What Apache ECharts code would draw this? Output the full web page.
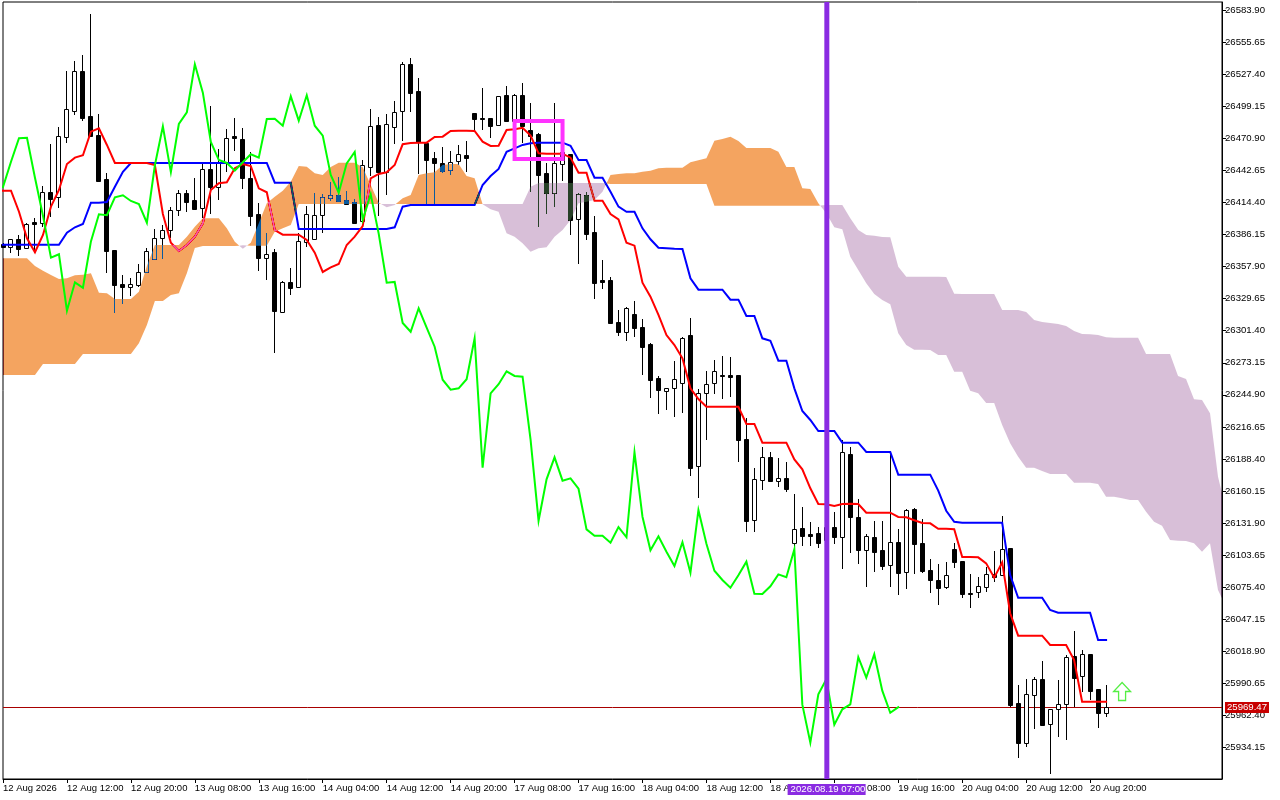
<!DOCTYPE html>
<html><head><meta charset="utf-8">
<style>html,body{margin:0;padding:0;background:#fff}#c{width:1280px;height:800px}</style>
<script src="https://cdn.jsdelivr.net/npm/echarts@6/dist/echarts.min.js"></script>
</head><body><div id="c"></div>
<script>
const timeLabels=["12 Aug 2026","12 Aug 12:00","12 Aug 20:00","13 Aug 08:00","13 Aug 16:00","14 Aug 04:00","14 Aug 12:00","14 Aug 20:00","17 Aug 08:00","17 Aug 16:00","18 Aug 04:00","18 Aug 12:00","18 Aug 20:00","19 Aug 08:00","19 Aug 16:00","20 Aug 04:00","20 Aug 12:00","20 Aug 20:00"];
const priceTicks=[26583.90,26555.65,26527.40,26499.15,26470.90,26442.65,26414.40,26386.15,26357.90,26329.65,26301.40,26273.15,26244.90,26216.65,26188.40,26160.15,26131.90,26103.65,26075.40,26047.15,26018.90,25990.65,25962.40,25934.15];
const opens=[26377.9,26375,26382.5,26374.1,26397.3,26396.6,26423.5,26419,26471.9,26494.9,
26530.1,26490.5,26474,26434.9,26372.3,26342.6,26340.2,26342,26352.9,26364.4,
26382.9,26389.9,26407.6,26422.6,26416.4,26409.3,26443.7,26428.4,26449,26473.1,
26470.4,26436.1,26404.3,26365.8,26370.8,26318.2,26344.4,26340.2,26379.9,26382.5,
26403.2,26418.2,26420.8,26416.7,26414.6,26398.4,26445.5,26482.8,26441.1,26481.3,
26495.4,26536.6,26512.5,26466.7,26453.7,26449,26442.8,26451.3,26456.1,26493.1,
26489,26489,26483.1,26509,26486.3,26509,26478.1,26474.9,26440.2,26423.1,
26448.1,26457.2,26399.6,26420.8,26388.2,26345.9,26346.1,26308.8,26300.5,26315.9,
26304.4,26289.7,26259.5,26248.5,26250.6,26255.6,26297.6,26181.9,26246.8,26255,
26262.1,26262.1,26262.1,26205.7,26134.8,26170.1,26189.8,26168.6,26171.3,26114.5,
26127.5,26122.2,26123.1,26116.9,26128.1,26119.3,26192.7,26136.9,26107.8,26119.3,
26107.8,26095.1,26114.9,26088.9,26144,26114,26090.2,26081.3,26075.7,26108.7,
26098.4,26069.9,26070.8,26075.2,26086.9,26086.3,26109.6,25973.2,25938.2,25980.5,
25994.1,25954.9,25967.6,25972.6,26014.6,25997.2,26016.1,25985.3,25964.1];
const closes=[26375.2,26382.5,26373.7,26395.8,26395.8,26423.5,26417.8,26472.8,26496.6,26530.1,
26488.7,26473.4,26433.7,26372,26342,26340.2,26342.3,26352.9,26371.4,26382.9,
26389.9,26407.6,26422.6,26415.2,26409,26443.7,26428.1,26450.4,26471.1,26471.6,
26436.3,26402.8,26365.8,26368.8,26319.1,26344.1,26339.3,26380.2,26404.1,26403.2,
26419,26420.8,26415.8,26413.1,26396.6,26447.3,26481.6,26441.3,26483.7,26494,
26536.3,26511.3,26467.8,26451.9,26449.3,26442.5,26449.9,26457,26454,26488.1,
26488.3,26482.2,26508.1,26486.6,26509,26482.2,26473.4,26438.7,26423.1,26449,
26459,26399,26421.7,26387,26343.7,26344.4,26308.2,26300.5,26321.2,26304.1,
26287.3,26258.2,26249.4,26250.6,26258.6,26294.7,26180.6,26246.2,26254.2,26265.6,
26261.5,26260.9,26205.3,26133.9,26170.4,26189.8,26169.2,26171.3,26162.1,26126.3,
26120.7,26120.7,26114.5,26128.3,26119.3,26194.2,26137.4,26107.8,26120.1,26106.6,
26094,26114.9,26088.1,26143.3,26113.6,26089.8,26081.6,26074.8,26085.8,26097.8,
26069.5,26069.3,26076.1,26086.6,26084,26108.7,25971.7,25938.2,25980.8,25994.1,
25954,25967.6,25972,26013.5,25995.5,26016.1,25984,25964.6,25969.47];
const highs=[26378.7,26382.5,26385.8,26396.4,26400.8,26429,26466,26481,26530.4,26539.2,
26544.5,26580.7,26492.2,26440.5,26372.6,26350.3,26347.9,26360,26374.3,26390.8,
26394.4,26410.8,26425.5,26425.5,26435.8,26448.4,26499.5,26461.6,26479,26488.7,
26479.9,26458.7,26413.8,26387.3,26373.2,26345,26356.4,26387.6,26411.4,26422.6,
26421.7,26432.3,26437.2,26424.6,26417.5,26451.9,26496.6,26489.6,26492.5,26504,
26538.3,26541.6,26524,26466.9,26458.7,26463.1,26459.9,26465.2,26468.7,26493.4,
26515.1,26489,26508.4,26517.2,26510.1,26519.6,26501.9,26475.5,26449.5,26501.9,
26460.7,26457.2,26422.6,26423.4,26402.6,26363.8,26348.5,26319.7,26322.6,26327.6,
26311.7,26290.3,26261.5,26250.9,26274.7,26295.6,26312.4,26249.8,26265.9,26275.6,
26279.1,26278.5,26262.4,26224.2,26180.1,26198.6,26194.2,26188.9,26185.4,26157.4,
26146,26132.8,26128.3,26130.1,26141.6,26205.1,26198.6,26152.8,26121.9,26133.6,
26133.6,26194.5,26126.6,26144.2,26144.8,26135.4,26099.9,26095.5,26097.2,26114.2,
26098.4,26086.9,26084,26093.1,26107.2,26138,26109.8,25988.8,25994.3,25995.8,
26009.9,25967.9,25993.2,26015.5,26036.6,26019.9,26016.4,25985.5,25988.8];
const lows=[26374.3,26369.9,26367.6,26374.1,26369.9,26392.9,26401.9,26409.9,26467.2,26491.9,
26486.6,26473.4,26433.7,26352.6,26317.3,26325,26332,26340.2,26352.9,26364.4,
26364.9,26382.9,26402.8,26406.3,26407.8,26400.5,26404.3,26416.7,26441.6,26460.1,
26426.4,26394,26354.3,26346.1,26282,26318.2,26332.9,26340.2,26375.5,26381.4,
26387.3,26416,26415.8,26413.1,26395.8,26398.1,26437.8,26402.8,26421.1,26466,
26468.7,26494.5,26439.6,26413.1,26413.1,26440.2,26438.7,26447.5,26441.1,26478.4,
26478.4,26471.3,26481.9,26485.7,26485.4,26466.7,26424,26393.1,26404.3,26410.8,
26433.4,26385.8,26360.2,26381.4,26329.6,26338.2,26307.3,26296.7,26292.6,26295.9,
26262.4,26242.4,26228.2,26231.5,26225.6,26229.1,26173.6,26154.2,26205.3,26245.6,
26241.5,26243.2,26185.9,26124.2,26124.2,26161,26169.2,26163.9,26159.5,26108.1,
26111.6,26111.6,26110.1,26112.5,26113.6,26091.6,26105.7,26095.7,26075.7,26088.7,
26090.4,26075.7,26068.7,26074,26086.9,26088.1,26070.4,26059.8,26073.7,26092.5,
26066,26056.9,26066,26071.3,26080.1,26086,25969.6,25925,25934.6,25950.5,
25954,25910.8,25943.2,25940.5,25969.4,25982.9,25975.8,25951.1,25960.8];
const tenkan=[26424.9,26424.9,26406.3,26382.9,26370.6,26385.8,26410.8,26425.5,26448.4,26454,
26456.1,26476.9,26479.9,26465.2,26449.3,26449.3,26449.3,26449.3,26449.3,26447.5,
26404.3,26379,26371.7,26377,26384.3,26396.1,26425.5,26431.4,26432.3,26444.6,
26448.4,26446.6,26427,26423.5,26390.2,26386.1,26386.1,26386.1,26381.4,26370.2,
26353.2,26357.3,26360.2,26377,26384.3,26393.7,26435.8,26439.6,26441.1,26447.5,
26465.8,26466.9,26467.2,26467.2,26472.2,26472.5,26477.5,26477.8,26477.8,26477.5,
26468.1,26464.3,26464.5,26478.4,26479,26480.4,26473.4,26457.8,26457.5,26457.5,
26457.5,26454,26440.7,26440.7,26416,26416,26404.3,26399.6,26379,26376.4,
26343.7,26331.4,26315.3,26297.6,26288.8,26277.1,26250.6,26241.2,26234.4,26234.4,
26234.4,26234.4,26234.4,26219.2,26219.2,26202.7,26202.7,26202.7,26202.7,26188,
26179.2,26162.5,26148.6,26148.4,26146.9,26148.6,26148.9,26148.6,26141,26141,
26141,26141,26137.2,26136.9,26134.3,26131.9,26131.6,26126.8,26126.8,26126.3,
26101.9,26101.9,26101.6,26096.3,26083.7,26097.2,26052.3,26032.5,26032.5,26032.5,
26032.5,26024.3,26024.3,26024.3,26011.1,25974.3,25974.3,25974.3,25974.3];
const kijun=[26377.2,26377.2,26377.2,26377.2,26377.2,26377.2,26377.2,26377.2,26387.8,26392.6,
26395.5,26414.3,26414.3,26414.9,26428.4,26441.6,26449.3,26449.3,26449.3,26449.3,
26449.3,26449.3,26449.3,26449.3,26449.3,26449.3,26449.3,26449.3,26449.3,26449.3,
26449.3,26449.3,26449.3,26449.3,26431.9,26431.9,26431.9,26391.1,26391.1,26391.1,
26391.1,26391.1,26391.1,26391.1,26391.1,26391.1,26391.1,26391.1,26391.1,26392.6,
26410.8,26412.3,26412.3,26412.3,26412.3,26412.3,26412.3,26412.3,26412.3,26412.3,
26429.9,26437.8,26444,26459.2,26462.2,26465.2,26466.7,26467.2,26467.2,26467.2,
26467.2,26464.5,26451.9,26451.9,26436.3,26436.3,26424,26410.8,26406.3,26406.3,
26391.7,26382,26374.6,26374.1,26373.7,26373.5,26347.6,26337.6,26337.6,26337.6,
26337.6,26328.8,26328.8,26314.4,26314.4,26294.7,26292.6,26275,26275,26250.6,
26230.6,26222.7,26213,26213,26213,26202.7,26202.7,26202.7,26194.5,26194.5,
26194.5,26194.5,26174.5,26174.5,26174.5,26174.5,26174.5,26160.4,26142.7,26133,
26132.1,26132.1,26132.1,26132.1,26132.1,26132.1,26086,26066,26066,26066,
26066,26055.2,26052.8,26052.8,26052.8,26052.8,26052.8,26028.7,26028.7];
const chikou=[26428.1,26450.4,26471.1,26471.6,
26436.3,26402.8,26365.8,26368.8,26319.1,26344.1,26339.3,26380.2,26404.1,26403.2,
26419,26420.8,26415.8,26413.1,26396.6,26447.3,26481.6,26441.3,26483.7,26494,
26536.3,26511.3,26467.8,26451.9,26449.3,26442.5,26449.9,26457,26454,26488.1,
26488.3,26482.2,26508.1,26486.6,26509,26482.2,26473.4,26438.7,26423.1,26449,
26459,26399,26421.7,26387,26343.7,26344.4,26308.2,26300.5,26321.2,26304.1,
26287.3,26258.2,26249.4,26250.6,26258.6,26294.7,26180.6,26246.2,26254.2,26265.6,
26261.5,26260.9,26205.3,26133.9,26170.4,26189.8,26169.2,26171.3,26162.1,26126.3,
26120.7,26120.7,26114.5,26128.3,26119.3,26194.2,26137.4,26107.8,26120.1,26106.6,
26094,26114.9,26088.1,26143.3,26113.6,26089.8,26081.6,26074.8,26085.8,26097.8,
26069.5,26069.3,26076.1,26086.6,26084,26108.7,25971.7,25938.2,25980.8,25994.1,
25954,25967.6,25972,26013.5,25995.5,26016.1,25984,25964.6,25969.47];
const senkouA=[26365.3,26365.3,26365.3,26365.3,26358.5,26354.3,26350.5,26347,26347.6,26350.3,
26350.8,26352,26334.9,26334.4,26329.4,26329.4,26329.4,26335.8,26358.5,26377,
26377,26377,26377,26384.3,26393.1,26400.5,26400.5,26400.5,26391.7,26379.9,
26373.7,26379,26396.1,26413.8,26419.6,26424.9,26432.8,26446.6,26446,26440.2,
26438.7,26445.8,26449.5,26449.5,26449.5,26445.5,26429.9,26414.3,26410.2,26412.3,
26418.2,26421.1,26438.7,26440.2,26441.1,26447.5,26448.4,26448.4,26437.8,26435.8,
26412.9,26408.5,26406.3,26387.3,26384.3,26378.5,26371.1,26374.1,26375,26384.3,
26390.2,26399,26413.8,26415.2,26416.7,26424,26438.7,26439.6,26440.2,26440.2,
26441.6,26442.5,26444.6,26445.1,26445.1,26445.1,26449.9,26451.7,26453.4,26468.9,
26470.4,26472.5,26468.7,26462.5,26462.5,26462.5,26462.5,26459.2,26445.8,26445.8,
26427,26426.4,26413.8,26404.9,26392.6,26390.8,26366.7,26354.9,26343.2,26333.8,
26328.5,26324.7,26299.1,26288.8,26284.7,26284.7,26284.4,26280,26280,26265.3,
26265.3,26248.5,26246.2,26237.7,26237.7,26218.3,26202.1,26190.3,26180.6,26180.6,
26177.7,26175.1,26175.1,26175.1,26167.4,26167.4,26167.4,26166.3,26155.1,26155.1,
26153.6,26152.1,26152.1,26141.8,26133,26129.5,26116.9,26116.3,26116,26114,
26106.6,26114,26072.8,26058.1];
const senkouB=[26262.4,26262.4,26262.4,26262.4,26262.4,26272.1,26272.1,26272.1,26272.1,26272.1,
26280.9,26280.9,26280.9,26280.9,26280.9,26280.9,26280.9,26290.3,26306.4,26327.6,
26327.6,26332.9,26334.4,26352,26374.3,26376.1,26376.1,26376.1,26376.1,26376.1,
26376.7,26376.4,26376.4,26376.4,26388.7,26391.7,26394.6,26413.1,26413.1,26413.1,
26413.1,26413.1,26413.1,26413.1,26413.1,26413.1,26413.1,26413.1,26413.1,26413.1,
26413.1,26413.1,26413.1,26413.1,26413.1,26413.1,26413.1,26413.1,26413.1,26413.1,
26413.1,26413.1,26413.1,26413.1,26413.1,26413.1,26428.4,26431.6,26431.6,26431.6,
26431.6,26431.6,26431.6,26431.6,26431.6,26431.6,26430.8,26430.8,26430.8,26430.8,
26430.8,26430.8,26430.8,26430.8,26430.8,26430.8,26430.8,26430.8,26430.8,26411.6,
26411.6,26411.6,26411.6,26411.6,26411.6,26411.6,26411.6,26411.6,26411.6,26411.6,
26411.6,26411.6,26411.6,26412.3,26412.3,26412.3,26400.5,26390.2,26385.8,26385.2,
26384,26383.8,26357.9,26349,26349,26349,26349,26349,26348.8,26334,
26333.8,26333.8,26333.8,26333.8,26333.8,26319.7,26319.7,26319.7,26317.9,26310.9,
26309.1,26308.2,26307.3,26305.6,26301.2,26298.5,26298.2,26297.6,26295.6,26295.3,
26295.3,26295.3,26295.3,26280.9,26280.9,26280.9,26280.9,26261.5,26258.8,26240.9,
26240.3,26228.6,26172.7,26143.3];
const lastPrice=25969.47;
const cursorIndex=103, cursorLabel="2026.08.19 07:00";
const boxFrom=[64,26486.3], boxTo=[70,26452.8];
const arrowAt=[140,25983.3];

const CLOUD_UP='#0B5B9F', CLOUD_DOWN='#274027';
const candleData=opens.map((o,i)=>[i,o,highs[i],lows[i],closes[i]]);
const runs=[];
(function(){
  let cur={up:senkouA[0]>=senkouB[0],a:[[0,senkouA[0]]],b:[[0,senkouB[0]]]};
  for(let i=1;i<senkouA.length;i++){
    const up=senkouA[i]>=senkouB[i];
    if(up!==cur.up){
      const d0=senkouA[i-1]-senkouB[i-1],d1=senkouA[i]-senkouB[i],t=d0/(d0-d1);
      const x=i-1+t,v=senkouA[i-1]+t*(senkouA[i]-senkouA[i-1]);
      cur.a.push([x,v]);cur.b.push([x,v]);runs.push(cur);
      cur={up:up,a:[[x,v]],b:[[x,v]]};
    }
    cur.a.push([i,senkouA[i]]);cur.b.push([i,senkouB[i]]);
  }
  runs.push(cur);
})();
const pairs=a=>a.map((v,i)=>[i,v]);
const line=(name,arr,color,z)=>({name,type:'line',data:pairs(arr),showSymbol:false,symbol:'none',silent:true,z,
  lineStyle:{color,width:2,cap:'square',join:'miter'},itemStyle:{color}});
const FONT='"Liberation Sans"';
const chart=echarts.init(document.getElementById('c'),null,{renderer:'canvas',width:1280,height:800});
chart.setOption({
  animation:false,backgroundColor:'#ffffff',tooltip:{show:false},
  grid:{left:2,top:2,width:1220,height:777,show:true,borderColor:'#000',borderWidth:1,backgroundColor:'transparent'},
  xAxis:{type:'value',min:0,max:152.5,position:'bottom',splitLine:{show:false},
    axisLine:{show:true,onZero:false,lineStyle:{color:'#000',width:1}},
    axisTick:{show:true,length:4,inside:false,lineStyle:{color:'#000'},customValues:timeLabels.map((s,k)=>k*8)},
    axisLabel:{show:true,color:'#000',fontFamily:FONT,fontSize:9.5,align:'left',margin:4,
      customValues:timeLabels.map((s,k)=>k*8),formatter:v=>timeLabels[Math.round(v/8)]||''}},
  yAxis:{type:'value',min:25906.16,max:26591.24,position:'right',scale:true,splitLine:{show:false},
    axisLine:{show:true,onZero:false,lineStyle:{color:'#000',width:1}},
    axisTick:{show:true,length:4,inside:false,lineStyle:{color:'#000'},customValues:priceTicks},
    axisLabel:{show:true,color:'#000',fontFamily:FONT,fontSize:9.6,margin:3,
      customValues:priceTicks,formatter:v=>v.toFixed(2)}},
  series:[
    {name:'price',type:'custom',z:1,silent:true,data:[[0,lastPrice]],
      renderItem(p,api){const a=api.coord([0,lastPrice]),b=api.coord([152.5,lastPrice]);const y=Math.round(a[1])+.5;
        return {type:'line',shape:{x1:a[0],y1:y,x2:b[0],y2:y},style:{stroke:'#a80000',lineWidth:1,fill:null}};}},
    {name:'candles',type:'custom',z:2,silent:true,data:candleData,encode:{x:0,y:[1,2,3,4]},
      renderItem(p,api){
        const i=api.value(0),o=api.value(1),h=api.value(2),l=api.value(3),c=api.value(4);
        const x=Math.floor(api.coord([i,o])[0])+.5;
        const yo=Math.round(api.coord([i,o])[1]),yc=Math.round(api.coord([i,c])[1]);
        const yh=Math.round(api.coord([i,h])[1]),yl=Math.round(api.coord([i,l])[1]);
        const top=Math.min(yo,yc),bot=Math.max(yo,yc);
        const bull=c>=o;
        return {type:'group',children:[
          {type:'line',shape:{x1:x,y1:yh,x2:x,y2:yl},style:{stroke:'#000',lineWidth:1,fill:null}},
          {type:'rect',shape:{x:x-2,y:top+.5,width:4,height:Math.max(bot-top,1)},style:{fill:bull?'#fff':'#000',stroke:'#000',lineWidth:1}}
        ]};}},
    line('kijun',kijun,'#0000ff',3),
    line('tenkan',tenkan,'#ff0000',4),
    {name:'cloud',type:'custom',z:5,silent:true,clip:true,data:runs.map((r,k)=>[k,senkouA[0]]),
      renderItem(p,api){
        const r=runs[p.dataIndex];
        const pts=r.a.concat(r.b.slice().reverse()).map(q=>api.coord(q));
        return {type:'polygon',shape:{points:pts},style:{fill:r.up?CLOUD_UP:CLOUD_DOWN,blend:'difference'}};}},
    line('chikou',chikou,'#00ff00',6),
    {name:'box',type:'custom',z:7,silent:true,data:[[boxFrom[0],boxFrom[1]]],
      renderItem(p,api){const a=api.coord(boxFrom),b=api.coord(boxTo);
        return {type:'rect',shape:{x:a[0],y:a[1],width:b[0]-a[0],height:b[1]-a[1]},style:{fill:null,stroke:'#ff33ff',lineWidth:4}};}},
    {name:'arrow',type:'custom',z:7,silent:true,data:[arrowAt],
      renderItem(p,api){const c=api.coord(arrowAt),x=c[0],y=c[1];
        return {type:'polygon',shape:{points:[[x,y-9],[x+8.5,y],[x+3.5,y],[x+3.5,y+9],[x-3.5,y+9],[x-3.5,y],[x-8.5,y]]},
          style:{fill:'#ffffff',stroke:'#55ee44',lineWidth:1.3}};}},
    {name:'cursor',type:'custom',z:8,silent:true,data:[[cursorIndex,lastPrice]],
      renderItem(p,api){
        const x=api.coord([cursorIndex,lastPrice])[0];
        const top=api.coord([0,26591.24])[1],bot=api.coord([0,25906.16])[1];
        return {type:'group',children:[
          {type:'rect',shape:{x:x-2,y:top,width:5,height:bot-top},style:{fill:'#8a2be2'}},
          {type:'rect',shape:{x:x-38.7,y:bot+5,width:78,height:11},style:{fill:'#8a2be2'}},
          {type:'text',style:{x:x-35.7,y:bot+10.5,text:cursorLabel,fill:'#fff',font:'9.6px '+FONT,textAlign:'left',textVerticalAlign:'middle'}}
        ]};}},
    {name:'priceTag',type:'custom',z:8,silent:true,data:[[152.5,lastPrice]],
      renderItem(p,api){const c=api.coord([152.5,lastPrice]);const y=Math.round(c[1]);
        return {type:'group',children:[
          {type:'rect',shape:{x:c[0]+3,y:y-5,width:44,height:11},style:{fill:'#c80000'}},
          {type:'text',style:{x:c[0]+5,y:y+.5,text:lastPrice.toFixed(2),fill:'#fff',font:'9.6px '+FONT,textAlign:'left',textVerticalAlign:'middle'}}
        ]};}}
  ]
});
// MT4 paints the cloud by inverting what lies under it: apply that as a canvas blend on the cloud polygons.
(function(){
  const zr=chart.getZr();
  zr.storage.getDisplayList(true,true).forEach(el=>{
    const f=el.style&&el.style.fill;
    if(f===CLOUD_UP||f===CLOUD_DOWN){ el.style.blend='difference'; el.autoBatch=false; el.markRedraw(); }
  });
  zr.refreshImmediately();
})();
</script></body></html>
